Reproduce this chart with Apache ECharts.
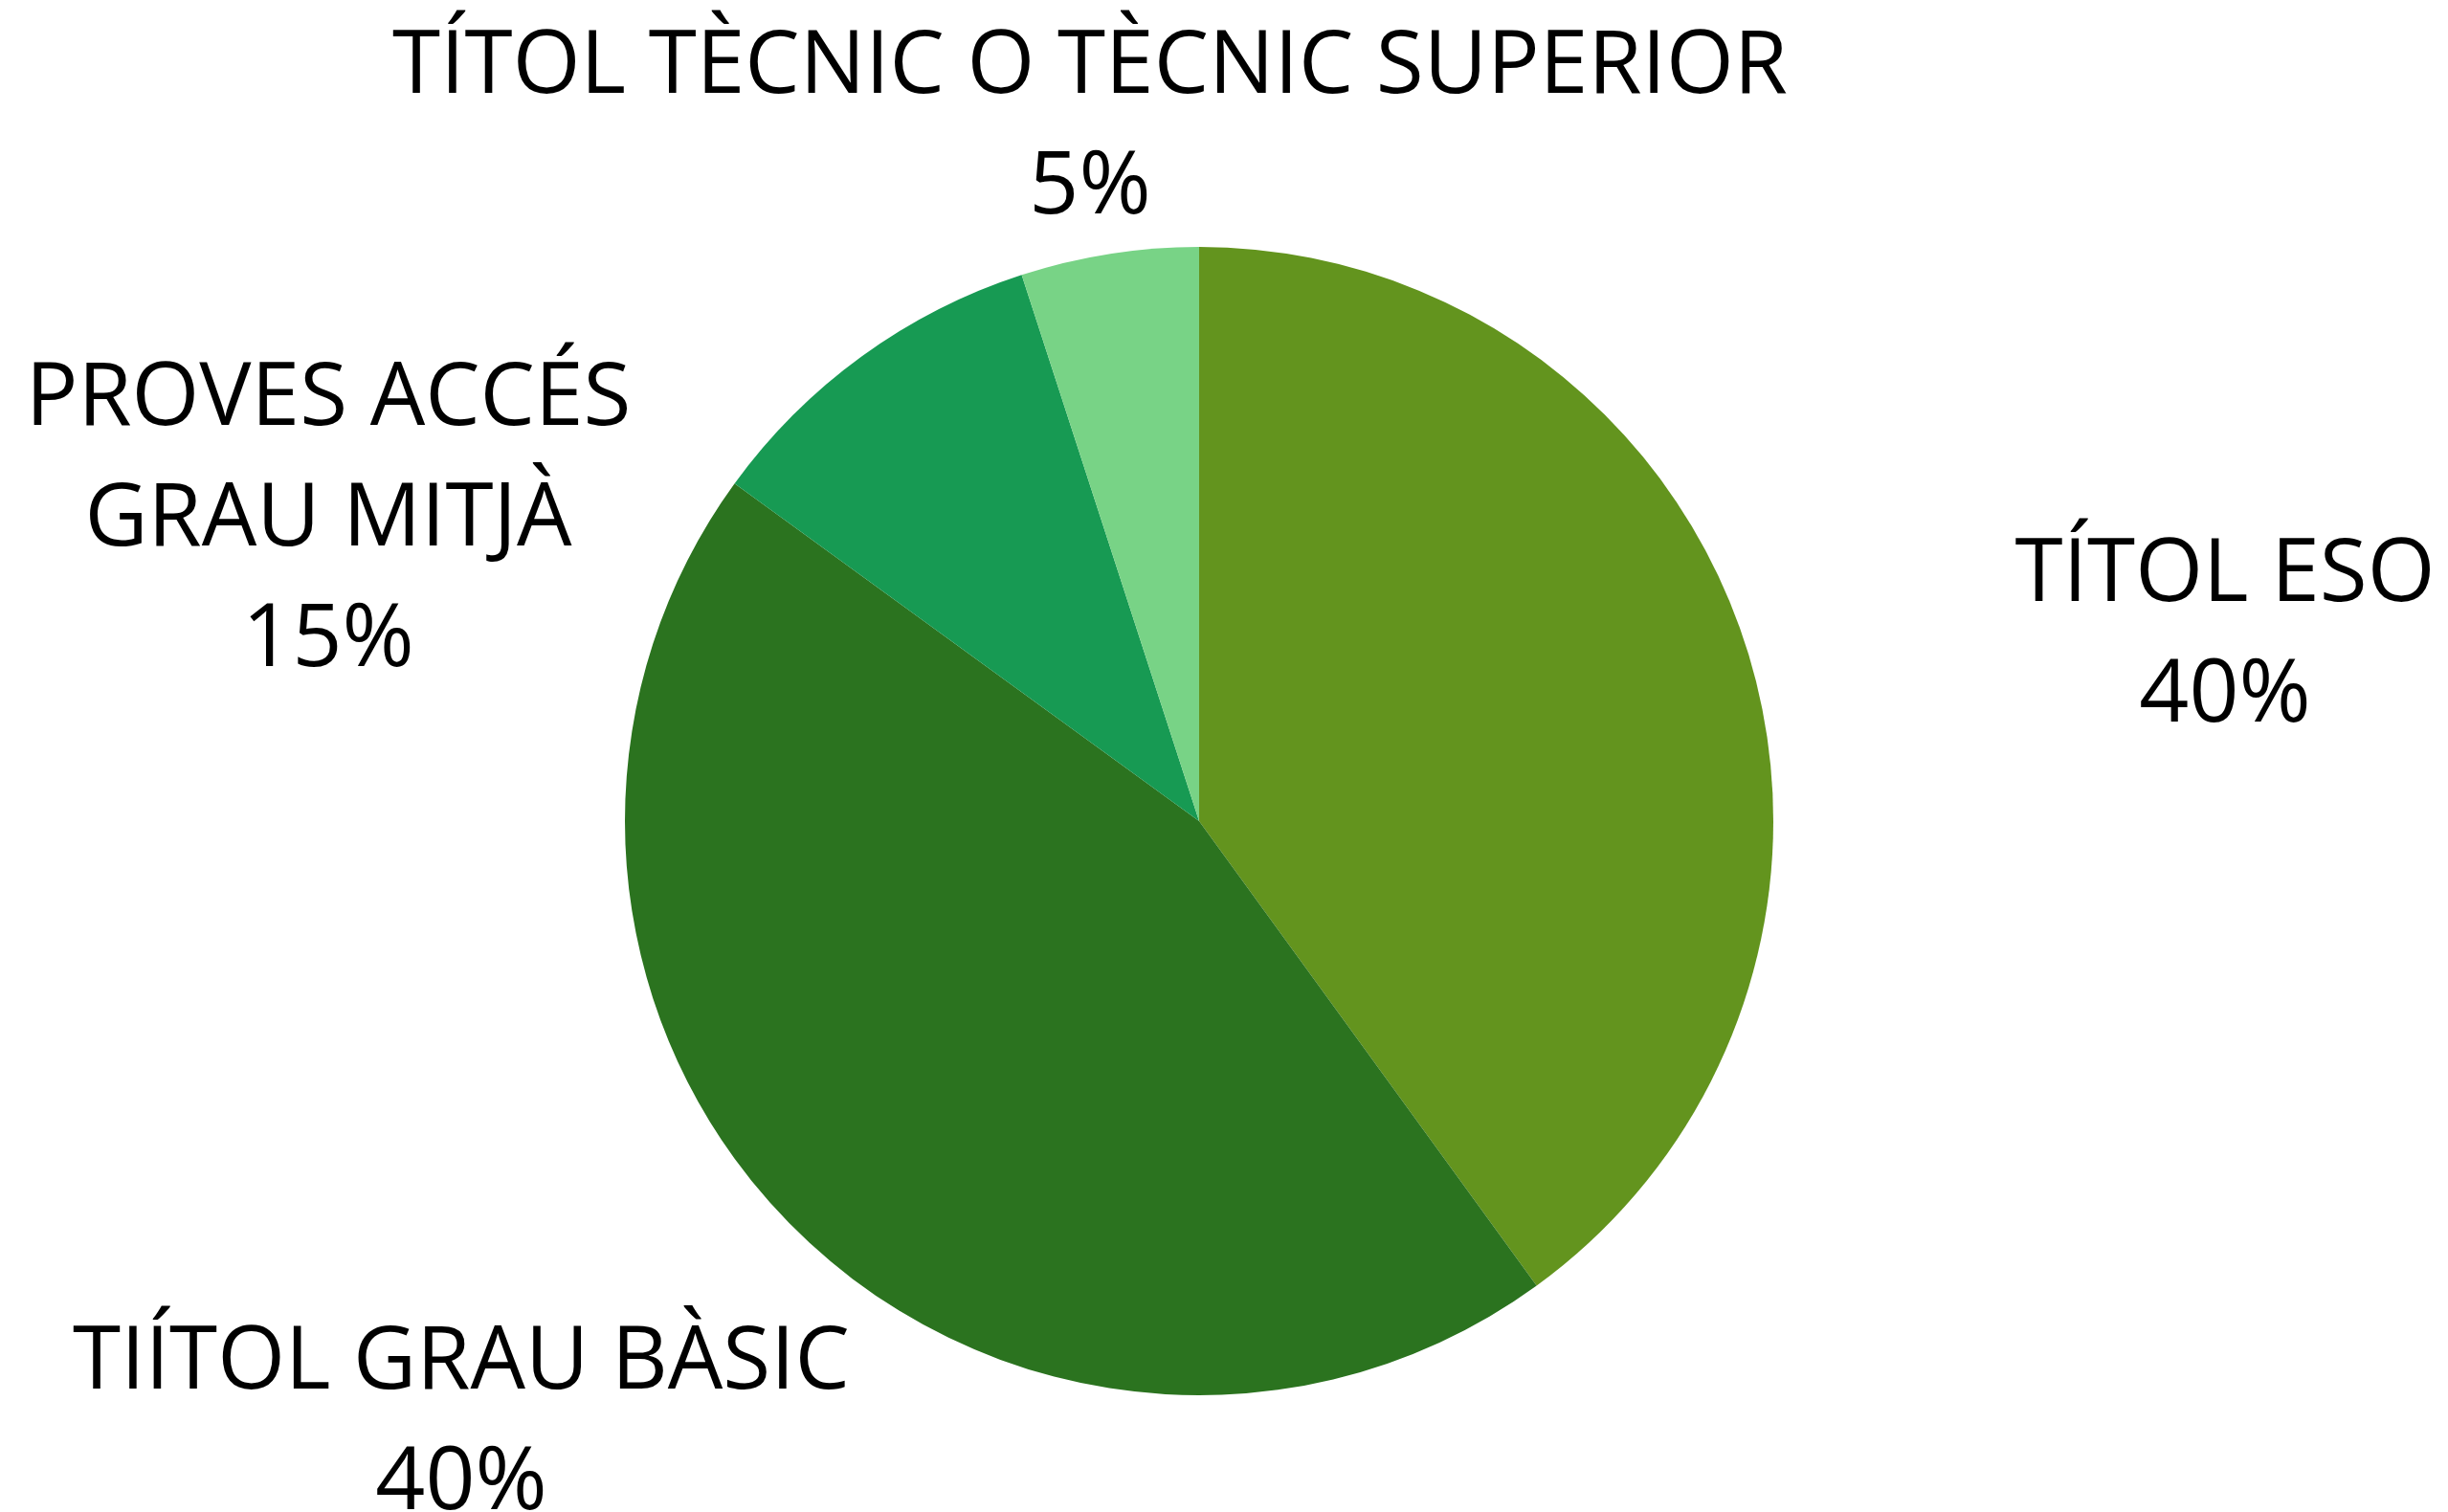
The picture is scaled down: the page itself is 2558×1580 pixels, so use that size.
<!DOCTYPE html>
<html>
<head>
<meta charset="utf-8">
<style>
  html, body { margin: 0; padding: 0; background: #fff; }
  #chart { width: 2558px; height: 1580px; }
</style>
<script src="https://cdn.jsdelivr.net/npm/echarts@6/dist/echarts.min.js"></script>
</head>
<body>
<div id="chart"></div>
<script>
// slice sizes as drawn (clockwise from 12 o'clock)
const categories = ['TÍTOL ESO', 'TIÍTOL GRAU BÀSIC', 'PROVES ACCÉS\nGRAU MITJÀ', 'TÍTOL TÈCNIC O TÈCNIC SUPERIOR'];
const values = [40, 45, 10, 5];
// percentages as printed on the chart
const printedPct = ['40%', '40%', '15%', '5%'];
const colors = ['#63941e', '#2b731f', '#179a53', '#78d386'];

// where each label block sits (centre of the text block)
const labelPos = [[2325, 665], [482, 1488], [343, 544], [1139, 134]];

const chart = echarts.init(document.getElementById('chart'));

const option = {
  animation: false,
  backgroundColor: '#ffffff',
  series: [{
    type: 'pie',
    center: [1253, 858],
    radius: 600,
    startAngle: 90,
    clockwise: true,
    silent: true,
    data: categories.map((name, i) => ({
      name: name,
      value: values[i],
      itemStyle: { color: colors[i] }
    })),
    itemStyle: { borderWidth: 0 },
    label: {
      show: true,
      position: 'outside',
      formatter: p => p.name + '\n' + printedPct[p.dataIndex],
      fontFamily: 'Open Sans',
      fontSize: 91,
      lineHeight: 126,
      color: '#000',
      align: 'center',
      overflow: 'none'
    },
    labelLine: { show: false },
    labelLayout: params => ({
      x: labelPos[params.dataIndex][0],
      y: labelPos[params.dataIndex][1],
      align: 'center',
      verticalAlign: 'middle'
    })
  }]
};

chart.setOption(option);
</script>
</body>
</html>
